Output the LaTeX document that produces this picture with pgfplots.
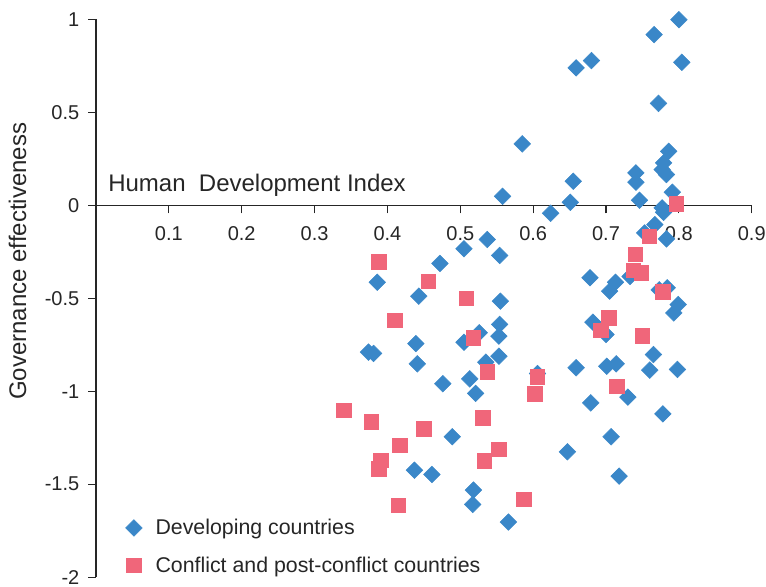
\documentclass[border=0pt]{standalone}
\usepackage{pgfplots}
\pgfplotsset{compat=1.18}
\usepackage{fontspec}
\setmainfont{Liberation Sans}
\definecolor{devblue}{RGB}{58,135,200}
\definecolor{confred}{RGB}{240,102,122}

\begin{document}
\begin{tikzpicture}
\begin{axis}[
  name=ax,
  scale only axis,
  width=491.8pt, height=418.3pt,
  xmin=0, xmax=0.9, ymin=-2, ymax=1,
  axis x line=middle, axis y line=left,
  axis line style={-, line width=0.8pt, black!85},
  xtick={0.1,0.2,0.3,0.4,0.5,0.6,0.7,0.8,0.9},
  xticklabels={0.1,0.2,0.3,0.4,0.5,0.6,0.7,0.8,0.9},
  ytick={-2,-1.5,-1,-0.5,0,0.5,1},
  yticklabels={-2,-1.5,-1,-0.5,0,0.5,1},
  tick align=outside,
  major tick length=6pt,
  tick style={line width=0.8pt, black!85},
  ticklabel style={font=\fontsize{15}{18}\selectfont, text=black!85},
  xticklabel style={yshift=-6.5pt},
  yticklabel style={xshift=-3pt},
  xlabel={Human\ \ Development Index},
  xlabel style={at={(axis cs:0,0)}, anchor=base west, inner sep=0pt,
    xshift=9pt, yshift=10pt,
    font=\fontsize{18}{21}\selectfont, text=black!85},
  ylabel={Governance effectiveness},
  ylabel style={at={(rel axis cs:0,0.566)}, anchor=south, inner sep=0pt,
    yshift=52pt,
    font=\fontsize{18}{21}\selectfont, text=black!85},
  clip=false,
  legend style={at={(rel axis cs:0,0)}, anchor=south west, draw=none,
    fill=none, font=\fontsize{16}{19}\selectfont, text=black!85,
    xshift=22pt, yshift=0pt, row sep=11pt, inner sep=0pt},
  legend cell align=left,
  legend image code/.code={\draw[mark repeat=1,#1] plot coordinates {(0cm,0cm)};},
  /tikz/every odd column/.append style={column sep=8pt},
]
\addplot[only marks, mark=square*, mark size=4.4pt,
  mark options={rotate=45, fill=devblue, draw=devblue}]
coordinates {
(0.800,0.998) (0.766,0.918) (0.804,0.769) (0.659,0.739) (0.680,0.778)
(0.772,0.548) (0.585,0.330) (0.786,0.290) (0.779,0.228) (0.777,0.192)
(0.783,0.165) (0.741,0.174) (0.741,0.124) (0.655,0.129) (0.558,0.048)
(0.651,0.016) (0.746,0.027) (0.791,0.070) (0.624,-0.043) (0.777,-0.014)
(0.779,-0.038) (0.767,-0.104) (0.753,-0.149) (0.783,-0.181) (0.505,-0.234)
(0.537,-0.184) (0.554,-0.270) (0.472,-0.313) (0.678,-0.390) (0.713,-0.414)
(0.705,-0.462) (0.733,-0.383) (0.784,-0.444) (0.773,-0.455) (0.443,-0.489)
(0.555,-0.516) (0.386,-0.414) (0.799,-0.534) (0.793,-0.579) (0.682,-0.629)
(0.700,-0.695) (0.554,-0.641) (0.553,-0.704) (0.526,-0.686) (0.505,-0.737)
(0.439,-0.744) (0.374,-0.790) (0.381,-0.797) (0.441,-0.853) (0.553,-0.812)
(0.535,-0.844) (0.476,-0.960) (0.513,-0.934) (0.521,-1.012) (0.606,-0.905)
(0.659,-0.874) (0.701,-0.866) (0.714,-0.853) (0.765,-0.803) (0.760,-0.887)
(0.798,-0.883) (0.679,-1.063) (0.730,-1.032) (0.778,-1.122) (0.707,-1.245)
(0.647,-1.326) (0.718,-1.457) (0.489,-1.245) (0.437,-1.425) (0.461,-1.448)
(0.518,-1.532) (0.517,-1.609) (0.566,-1.704)
};
\addlegendentry{Developing countries}
\addplot[only marks, mark=square*, mark size=5.4pt,
  mark options={fill=confred, draw=confred}]
coordinates {
(0.796,0.009) (0.759,-0.167) (0.740,-0.265) (0.737,-0.351) (0.748,-0.364)
(0.778,-0.466) (0.456,-0.409) (0.508,-0.501) (0.388,-0.304) (0.410,-0.618)
(0.518,-0.713) (0.537,-0.896) (0.606,-0.923) (0.602,-1.014) (0.704,-0.605)
(0.693,-0.674) (0.750,-0.701) (0.715,-0.975) (0.340,-1.104) (0.378,-1.165)
(0.450,-1.202) (0.417,-1.292) (0.391,-1.373) (0.388,-1.417) (0.531,-1.143)
(0.553,-1.313) (0.533,-1.374) (0.587,-1.582) (0.415,-1.614)
};
\addlegendentry{Conflict and post-conflict countries}
\end{axis}
\pgfresetboundingbox
\path ([xshift=-72pt, yshift=-7.2pt]ax.south west) rectangle
      ([xshift=10.7pt, yshift=14.5pt]ax.north east);
\end{tikzpicture}
\end{document}
